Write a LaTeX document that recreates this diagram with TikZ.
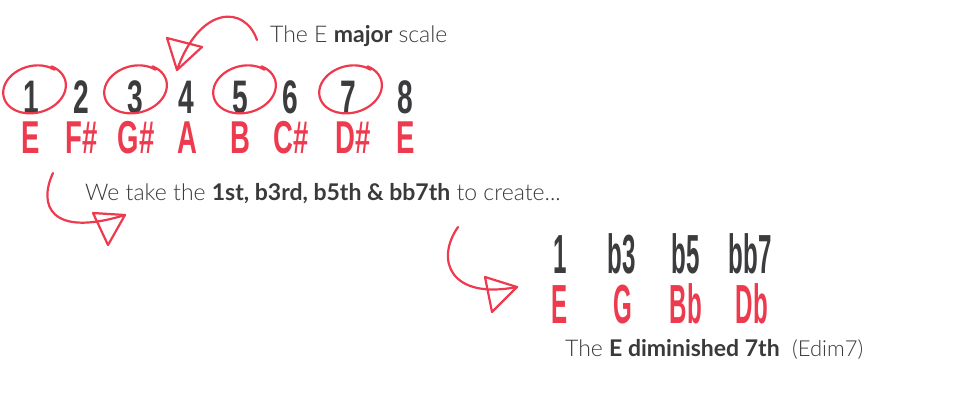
\documentclass[tikz,border=0pt]{standalone}
\usepackage{fontspec}
\setmainfont{Lato}[UprightFont={Lato Light}, BoldFont={Lato Bold}]
\newfontfamily\disp{Liberation Sans}
\definecolor{scred}{HTML}{EE3A4E}
\definecolor{digit}{HTML}{3C3C3E}
\definecolor{txt}{HTML}{3A3A3C}
\newcommand{\condA}[1]{\scalebox{0.88}[1.47]{#1}}
\newcommand{\condN}[1]{\scalebox{0.86}[1.44]{#1}}
\newcommand{\condB}[1]{\scalebox{0.67}[1.53]{#1}}
\tikzset{
  deg/.style={anchor=base, inner sep=0pt, text=digit, font=\disp\bfseries\fontsize{32}{32}\selectfont},
  note/.style={anchor=base, inner sep=0pt, text=scred, font=\disp\bfseries\fontsize{32}{32}\selectfont},
  cdeg/.style={anchor=base, inner sep=0pt, text=digit, font=\disp\bfseries\fontsize{36}{36}\selectfont},
  cnote/.style={anchor=base, inner sep=0pt, text=scred, font=\disp\bfseries\fontsize{36}{36}\selectfont},
  label/.style={anchor=base west, inner sep=0pt, text=txt},
  pen/.style={draw=scred, line width=2.2pt, line cap=round, line join=round},
}
\newcommand{\loopat}[2]{%
  \draw[pen] plot[domain=55:425, samples=80, variable=\t, smooth]
    ({#1 + (30+0.006*(\t-55))*cos(\t-8)}, {#2 - (23.5+0.004*(\t-55))*sin(\t)});}
\begin{document}
\begin{tikzpicture}[x=1pt,y=-1pt]
\useasboundingbox[fill=white] (0,0) rectangle (960,400);
% scale degrees
\foreach \n/\x in {1/31,2/81,3/135,4/186,5/240,6/290,7/348,8/405}
  \node[deg] (d\n) at (\x,113) {\condA{\n}};
% scale notes
\node[note] (n1) at (31,153) {\condN{E}};
\node[note] (n2) at (82,153) {\condN{F\#}};
\node[note] (n3) at (136,153) {\condN{G\#}};
\node[note] (n4) at (187,153) {\condN{A}};
\node[note] (n5) at (240,153) {\condN{B}};
\node[note] (n6) at (291,153) {\condN{C\#}};
\node[note] (n7) at (353,153) {\condN{D\#}};
\node[note] (n8) at (406,153) {\condN{E}};
% circles
\loopat{34}{89}
\loopat{135}{89}
\loopat{244}{89}
\loopat{350}{89}
% labels
\node[label, font=\fontsize{23}{23}\selectfont] (t1) at (270,42) {The E \textbf{major} scale};
\node[label, font=\fontsize{23}{23}\selectfont] (t2) at (85,200) {We take the \textbf{1st, b3rd, b5th \& bb7th} to create...};
% chord
\node[cdeg] (c1) at (560,273) {\condB{1}};
\node[cdeg] (c2) at (622,273) {\condB{b3}};
\node[cdeg] (c3) at (686,273) {\condB{b5}};
\node[cdeg] (c4) at (750,273) {\condB{bb7}};
\node[cnote] (e1) at (560,323) {\condB{E}};
\node[cnote] (e2) at (623,323) {\condB{G}};
\node[cnote] (e3) at (686,323) {\condB{Bb}};
\node[cnote] (e4) at (752,323) {\condB{Db}};
\node[label, font=\fontsize{23}{23}\selectfont] (t3) at (565,356) {The \textbf{E diminished 7th}};
\node[label, font=\fontsize{22}{22}\selectfont] (t4) at (792,356) {(Edim7)};
% arrow 1
\coordinate (a1s) at (257,40);
\coordinate (a1t) at (177,70);
\draw[pen] (a1s) .. controls (245,5) and (200,5) .. (a1t);
\draw[pen] (167,38) -- (202,47) -- (a1t) -- cycle;
% arrow 2
\coordinate (a2s) at (53,173);
\coordinate (a2t) at (125,215);
\draw[pen] (a2s) .. controls (38,205) and (50,238) .. (a2t);
\draw[pen] (93,213) -- (a2t) -- (108,245) -- cycle;
% arrow 3
\coordinate (a3s) at (458,227);
\coordinate (a3t) at (517,287);
\draw[pen] (a3s) .. controls (435,260) and (450,300) .. (a3t);
\draw[pen] (485,277) -- (a3t) -- (492,312) -- cycle;
\end{tikzpicture}
\end{document}
